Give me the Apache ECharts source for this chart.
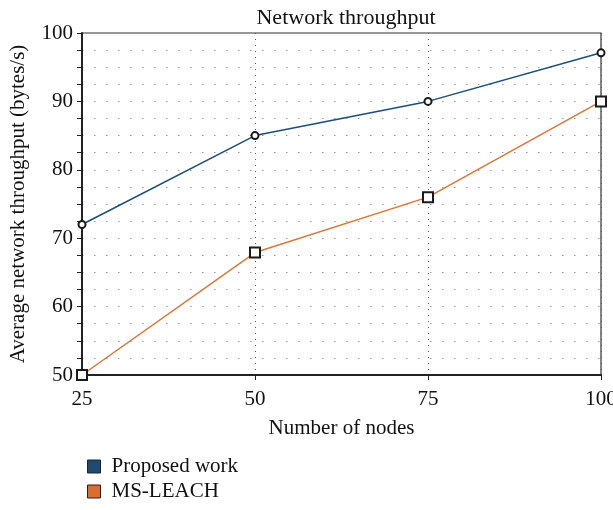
<!DOCTYPE html>
<html>
<head>
<meta charset="utf-8">
<script src="https://cdn.jsdelivr.net/npm/echarts@6/dist/echarts.min.js"></script>
<style>
  html, body { margin: 0; padding: 0; background: #fff; }
  #chart { width: 613px; height: 510px; }
</style>
</head>
<body>
<div id="chart"></div>
<script>
var nodes = [25, 50, 75, 100]
var proposedWork = [72, 85, 90, 97.1]
var msLeach = [50, 67.9, 76, 90]
var seriesNames = ['Proposed work', 'MS-LEACH']

var font = 'Liberation Serif'
var myChart = echarts.init(document.getElementById('chart'))

function pairs(ys) {
  return nodes.map(function (x, i) { return [x, ys[i]] })
}

var option = {
  backgroundColor: '#fff',
  title: {
    text: 'Network throughput',
    left: 341,
    textAlign: 'center',
    top: 2,
    textStyle: { fontFamily: font, fontSize: 22, fontWeight: 'normal', color: '#111' }
  },
  legend: {
    orient: 'vertical',
    left: 82,
    top: 451,
    itemWidth: 13,
    itemHeight: 13,
    itemGap: 4,
    icon: 'rect',
    textStyle: { fontFamily: font, fontSize: 21, color: '#111', padding: [0, 0, 0, 6] },
    data: [
      { name: seriesNames[0], itemStyle: { color: '#1d4b74', borderColor: '#222', borderWidth: 1 } },
      { name: seriesNames[1], itemStyle: { color: '#dc6d2c', borderColor: '#222', borderWidth: 1 } }
    ]
  },
  grid: {
    left: 82,
    right: 12,
    top: 33,
    bottom: 135,
    outerBoundsMode: 'none',
    containLabel: false,
    show: true,
    borderColor: '#333',
    borderWidth: 1.2,
    backgroundColor: 'transparent'
  },
  xAxis: {
    type: 'value',
    min: 25,
    max: 100,
    interval: 25,
    name: 'Number of nodes',
    nameLocation: 'middle',
    nameGap: 43,
    nameTextStyle: { fontFamily: font, fontSize: 21, color: '#111' },
    axisLine: { show: true, lineStyle: { color: '#222', width: 2 } },
    axisTick: { show: true, inside: false, length: 5, lineStyle: { color: '#222' } },
    axisLabel: { fontFamily: font, fontSize: 21, color: '#111', margin: 14 },
    splitLine: { show: true, lineStyle: { color: '#555', type: [1, 5], width: 1 } }
  },
  yAxis: {
    type: 'value',
    min: 50,
    max: 100,
    interval: 10,
    name: 'Average network throughput (bytes/s)',
    nameLocation: 'middle',
    nameGap: 53,
    nameTextStyle: { fontFamily: font, fontSize: 21, color: '#111' },
    axisLine: { show: true, lineStyle: { color: '#222', width: 2 } },
    axisTick: { show: true, inside: false, length: 5, lineStyle: { color: '#222' } },
    minorTick: { show: true, splitNumber: 4, length: 5, lineStyle: { color: '#222' } },
    axisLabel: { fontFamily: font, fontSize: 21, color: '#111', margin: 9 },
    splitLine: { show: true, lineStyle: { color: '#999', type: [1.5, 10.5], width: 1 } },
    minorSplitLine: { show: true, lineStyle: { color: '#999', type: [1.5, 10.5], width: 1 } }
  },
  series: [
    {
      name: seriesNames[0],
      type: 'line',
      data: pairs(proposedWork),
      symbol: 'emptyCircle',
      symbolSize: 7,
      lineStyle: { color: '#1b4e7a', width: 1.5 },
      itemStyle: { color: '#1a1a1a', borderWidth: 1.2 },
      clip: false
    },
    {
      name: seriesNames[1],
      type: 'line',
      data: pairs(msLeach),
      symbol: 'emptyRect',
      symbolSize: 10,
      lineStyle: { color: '#e07533', width: 1.5 },
      itemStyle: { color: '#1a1a1a', borderWidth: 1.2 },
      clip: false
    }
  ]
}

option && myChart.setOption(option)
</script>
</body>
</html>
